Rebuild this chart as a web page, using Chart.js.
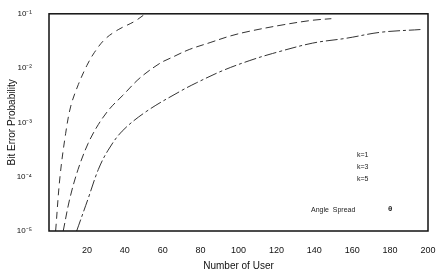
<!DOCTYPE html>
<html lang="en">
<head>
    <meta charset="UTF-8">
    <title>Bit Error Probability vs Number of User</title>
    <script src="https://cdn.jsdelivr.net/npm/chart.js"></script>
    <style>
        html, body { margin: 0; padding: 0; background: #fff; }
        #wrap { width: 437px; height: 272px; }
    </style>
</head>
<body>
    <div id="wrap"><canvas id="berChart" width="437" height="272"></canvas></div>

    <script>
        // values
        const usersK1 = [3.5, 5.8, 8.8, 11.5, 15.5, 20, 24, 29.5, 36.5, 45, 50];
        const berK1   = [1e-5, 1e-4, 6.3e-4, 2.0e-3, 5.0e-3, 1.12e-2, 1.95e-2, 3.4e-2, 5.1e-2, 7.2e-2, 9.5e-2];

        const usersK3 = [7.5, 11, 15.3, 20.6, 26, 32, 39, 48, 58.6, 65, 74, 85, 95.5, 106, 124, 139, 149];
        const berK3   = [1e-5, 3.98e-5, 1.35e-4, 4.07e-4, 9.1e-4, 1.78e-3, 3.16e-3, 6.6e-3, 1.23e-2, 1.58e-2, 2.2e-2, 2.95e-2, 3.89e-2, 4.79e-2, 6.31e-2, 7.6e-2, 8.13e-2];

        const usersK5 = [14.6, 20.6, 26, 31, 38.6, 51.7, 69, 78, 92, 106, 118, 139, 157, 175, 196];
        const berK5   = [1e-5, 3.9e-5, 1.35e-4, 3.0e-4, 6.9e-4, 1.62e-3, 3.7e-3, 5.4e-3, 9.1e-3, 1.38e-2, 1.86e-2, 2.88e-2, 3.55e-2, 4.57e-2, 5.13e-2];

        const xTicks = [20, 40, 60, 80, 100, 120, 140, 160, 180, 200];
        const yTicks = [1e-5, 1e-4, 1e-3, 1e-2, 1e-1];
        const yTickLabels = ['10⁻⁵', '10⁻⁴', '10⁻³', '10⁻²', '10⁻¹'];
        const legendLabels = ['k=1', 'k=3', 'k=5'];

        function toPoints(xs, ys) {
            return xs.map((x, i) => ({ x: x, y: ys[i] }));
        }

        const FONT = '"Liberation Sans", Arial, sans-serif';

        // frame round the plot + the small text block
        const framePlugin = {
            id: 'frame',
            afterDraw(chart) {
                const { ctx, chartArea: a } = chart;
                ctx.save();
                ctx.strokeStyle = '#111';
                ctx.lineWidth = 1.5;
                ctx.strokeRect(a.left, a.top, a.right - a.left, a.bottom - a.top);

                ctx.fillStyle = '#222';
                ctx.font = '7px ' + FONT;
                ctx.textBaseline = 'middle';
                ctx.fillText(legendLabels[0], 357, 155);
                ctx.fillText(legendLabels[1], 357, 167);
                ctx.fillText(legendLabels[2], 357, 179);
                ctx.fillText('Angle  Spread', 311, 210);
                ctx.font = 'bold 8px ' + FONT;
                ctx.fillText('θ', 388, 209);
                ctx.restore();
            }
        };

        const lineStyle = {
            borderColor: '#333',
            borderWidth: 1,
            pointRadius: 0,
            fill: false,
            tension: 0.35
        };

        const ctx = document.getElementById('berChart').getContext('2d');
        const berChart = new Chart(ctx, {
            type: 'line',
            data: {
                datasets: [
                    { ...lineStyle, label: legendLabels[0], data: toPoints(usersK1, berK1), borderDash: [7, 5] },
                    { ...lineStyle, label: legendLabels[1], data: toPoints(usersK3, berK3), borderDash: [8, 4] },
                    { ...lineStyle, label: legendLabels[2], data: toPoints(usersK5, berK5), borderDash: [12, 3, 3, 3] }
                ]
            },
            options: {
                responsive: false,
                animation: false,
                layout: { padding: { left: 6, top: 7, right: 9, bottom: 0 } },
                plugins: {
                    legend: { display: false },
                    tooltip: { enabled: false }
                },
                scales: {
                    x: {
                        type: 'linear',
                        min: 0,
                        max: 200,
                        grid: { display: false },
                        border: { display: false },
                        afterBuildTicks: (scale) => { scale.ticks = xTicks.map(v => ({ value: v })); },
                        ticks: {
                            color: '#111',
                            font: { family: FONT, size: 9 },
                            maxRotation: 0,
                            padding: 6
                        },
                        title: {
                            display: true,
                            text: 'Number of User',
                            color: '#111',
                            font: { family: FONT, size: 10 },
                            padding: { top: 2, bottom: 0 }
                        },
                        afterFit: (scale) => {
                            scale.height = 41;
                            scale.paddingRight = 0; // let the "200" label run past the edge
                        }
                    },
                    y: {
                        type: 'logarithmic',
                        min: 1e-5,
                        max: 1e-1,
                        grid: { display: false },
                        border: { display: false },
                        afterBuildTicks: (scale) => { scale.ticks = yTicks.map(v => ({ value: v })); },
                        ticks: {
                            color: '#111',
                            font: { family: FONT, size: 8 },
                            padding: 9,
                            callback: (v) => {
                                const i = yTicks.findIndex(t => Math.abs(Math.log10(t) - Math.log10(v)) < 1e-6);
                                return i >= 0 ? yTickLabels[i] : '';
                            }
                        },
                        title: {
                            display: true,
                            text: 'Bit Error Probability',
                            color: '#111',
                            font: { family: FONT, size: 10 },
                            padding: { top: 0, bottom: 2 }
                        },
                        afterFit: (scale) => { scale.width = 43; }
                    }
                }
            },
            plugins: [framePlugin]
        });
    </script>
</body>
</html>
